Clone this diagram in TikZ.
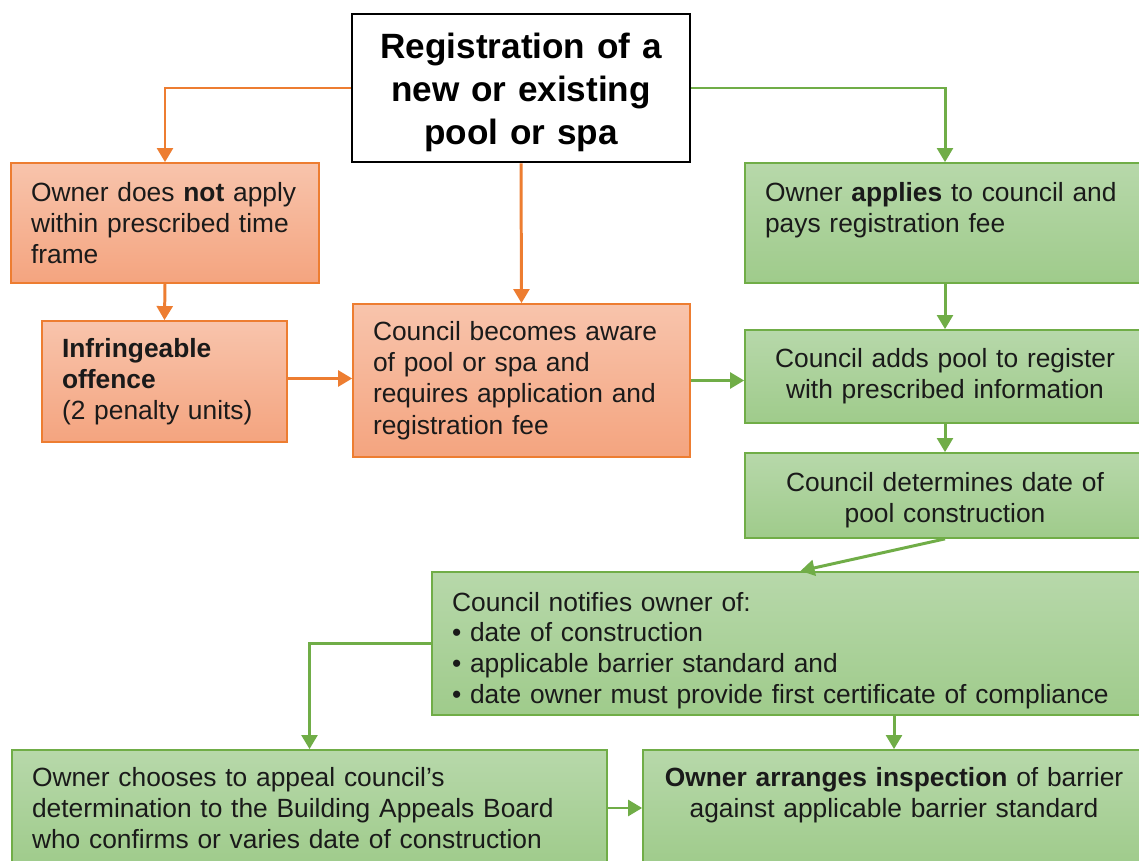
\documentclass[tikz,border=0pt]{standalone}
\usepackage{fontspec}
\setmainfont{Liberation Sans}
\usetikzlibrary{arrows.meta,positioning}
\definecolor{poolorange}{HTML}{ED7D31}
\definecolor{orangetop}{HTML}{F8C4AC}
\definecolor{orangebot}{HTML}{F4A47F}
\definecolor{poolgreen}{HTML}{70AD47}
\definecolor{greentop}{HTML}{B7D8AA}
\definecolor{greenbot}{HTML}{9FCB8B}
\definecolor{pooltext}{HTML}{1A1A1A}
\tikzset{
  titlebox/.style={
    draw=black,
    fill=white,
    line width=1.6pt,
    minimum width=6.76cm,
    minimum height=2.96cm,
    text width=6.2cm,
    align=center,
    font=\fontsize{20}{24.4}\selectfont\bfseries
  },
  orangebox/.style={
    draw=poolorange,
    top color=orangetop,
    bottom color=orangebot,
    line width=1pt,
    inner xsep=0.4cm,
    align=left,
    text=pooltext,
    font=\fontsize{15}{17.8}\selectfont
  },
  greenbox/.style={
    draw=poolgreen,
    top color=greentop,
    bottom color=greenbot,
    line width=1pt,
    inner xsep=0.4cm,
    align=left,
    text=pooltext,
    font=\fontsize{15}{17.6}\selectfont
  },
  oarrow/.style={
    -{Triangle[length=8pt,width=9pt]},
    line width=1.7pt,
    draw=poolorange
  },
  garrow/.style={
    -{Triangle[length=8pt,width=9pt]},
    line width=1.7pt,
    draw=poolgreen
  }
}
\begin{document}
\begin{tikzpicture}[x=0.02cm,y=-0.02cm]
\clip (0,0) rectangle (1139,861);
\fill[white] (0,0) rectangle (1139,861);
% top
\node[titlebox] (reg) at (521,88) {\rule{0pt}{19.6pt}Registration of a\\new or existing\\pool or spa};
% orange branch
\node[orangebox, text width=5.36cm, minimum height=2.4cm] (noapply) at (165,223)
  {Owner does \textbf{not} apply\\within prescribed time\\frame};
\node[orangebox, text width=4.1cm, minimum height=2.42cm] (offence) at (164.5,381.5)
  {\textbf{Infringeable}\\\textbf{offence}\\(2 penalty units)};
\node[orangebox, text width=5.94cm, minimum height=3.06cm] (aware) at (521.5,380.5)
  {Council becomes aware\\of pool or spa and\\requires application and\\registration fee};
% green branch
\node[greenbox, text width=7.2cm, minimum height=2.4cm] (applies) at (945,223)
  {Owner \textbf{applies} to council and\\pays registration fee\\\mbox{}};
\node[greenbox, text width=7.2cm, minimum height=1.86cm, align=center] (adds) at (945,376.5)
  {Council adds pool to register\\with prescribed information};
\node[greenbox, text width=7.2cm, minimum height=1.7cm, align=center] (determ) at (945,495.5)
  {\rule{0pt}{16.5pt}Council determines date of\\pool construction};
\node[greenbox, text width=13.46cm, minimum height=2.86cm] (notify) at (788.5,643.5)
  {\rule{0pt}{19pt}Council notifies owner of:\\\textbullet{} date of construction\\\textbullet{} applicable barrier standard and\\\textbullet{} date owner must provide first certificate of compliance};
\node[greenbox, text width=11.1cm, minimum height=2.32cm] (appeal) at (309.5,808)
  {Owner chooses to appeal council's\\determination to the Building Appeals Board\\who confirms or varies date of construction};
\node[greenbox, text width=9.24cm, minimum height=2.32cm, align=center] (inspect) at (894,808)
  {\textbf{Owner arranges inspection} of barrier\\against applicable barrier standard\\\mbox{}};
% connectors
\draw[oarrow] (reg.west) -| (noapply.north);
\draw[oarrow] (reg.south) -- (aware.north);
\draw[oarrow] (noapply.south) -- (offence.north);
\draw[oarrow] ([yshift=0.06cm]offence.east) -- ([yshift=0.06cm]offence.east -| aware.west);
\draw[garrow] (reg.east) -| (applies.north);
\draw[garrow] (applies.south) -- (adds.north);
\draw[garrow] (aware.east) -- (aware.east -| adds.west);
\draw[garrow] (adds.south) -- (determ.north);
\draw[garrow] (determ.south) -- ([xshift=0.24cm]notify.north);
\draw[garrow] (notify.west) -| (appeal.north);
\draw[garrow] (notify.south -| inspect.north) -- (inspect.north);
\draw[garrow] (appeal.east) -- (inspect.west);
\end{tikzpicture}
\end{document}
